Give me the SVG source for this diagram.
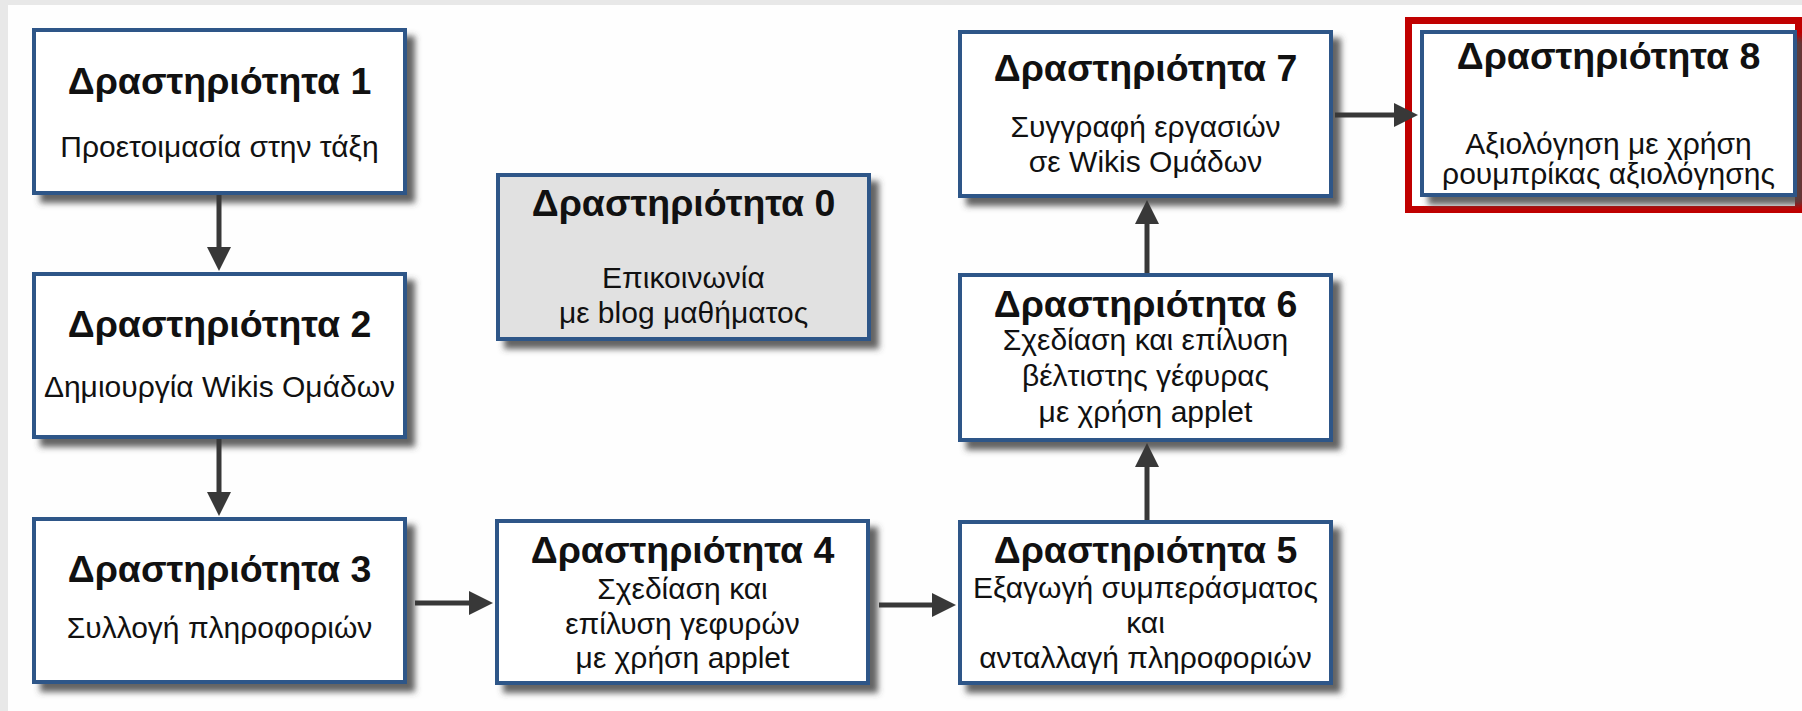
<svg xmlns="http://www.w3.org/2000/svg" width="1802" height="711" viewBox="0 0 1802 711">
<style>
.box{fill:#ffffff;stroke:#2f5788;stroke-width:4}
.gray{fill:#e1e1e1}
.t{font-family:"Liberation Sans",Arial,sans-serif;font-weight:bold;font-size:37.5px;fill:#111;text-anchor:middle}
.s{font-family:"Liberation Sans",Arial,sans-serif;font-size:30px;fill:#111;text-anchor:middle}
.c{stroke:#383838;stroke-width:5;fill:none}
</style>
<defs>
<filter id="sh" x="-10%" y="-10%" width="130%" height="140%">
<feDropShadow dx="8" dy="8" stdDeviation="3" flood-color="#4a4a4a" flood-opacity="0.85"/>
</filter>
<marker id="ah" viewBox="0 0 24 24" refX="4" refY="12" markerWidth="24" markerHeight="24" markerUnits="userSpaceOnUse" orient="auto">
<path d="M0,0 L24,12 L0,24 z" fill="#383838"/>
</marker>
</defs>
<rect x="0" y="0" width="1802" height="711" fill="#fefefe"/>
<rect x="0" y="0" width="1802" height="5" fill="#e8e8e8"/>
<rect x="0" y="0" width="8" height="711" fill="#e8e8e8"/>

<g id="frame8">
<rect x="1408.5" y="20.5" width="390" height="189" fill="#ffffff" stroke="#c00000" stroke-width="7"/>
</g>

<g id="node1">
<rect class="box" x="34" y="30" width="371" height="163" filter="url(#sh)"/>
<text class="t" x="219.5" y="94">Δραστηριότητα 1</text>
<text class="s" x="219.5" y="157">Προετοιμασία στην τάξη</text>
</g>
<g id="node2">
<rect class="box" x="34" y="274" width="371" height="163" filter="url(#sh)"/>
<text class="t" x="219.5" y="337">Δραστηριότητα 2</text>
<text class="s" x="219.5" y="397">Δημιουργία Wikis Ομάδων</text>
</g>
<g id="node3">
<rect class="box" x="34" y="519" width="371" height="163" filter="url(#sh)"/>
<text class="t" x="219.5" y="582">Δραστηριότητα 3</text>
<text class="s" x="219.5" y="638">Συλλογή πληροφοριών</text>
</g>
<g id="node0">
<rect class="box gray" x="498" y="175" width="371" height="164" filter="url(#sh)"/>
<text class="t" x="683.5" y="216">Δραστηριότητα 0</text>
<text class="s" x="683.5" y="288">Επικοινωνία</text>
<text class="s" x="683.5" y="323">με blog μαθήματος</text>
</g>
<g id="node4">
<rect class="box" x="497" y="521" width="371" height="162" filter="url(#sh)"/>
<text class="t" x="682.5" y="563">Δραστηριότητα 4</text>
<text class="s" x="682.5" y="599">Σχεδίαση και</text>
<text class="s" x="682.5" y="634">επίλυση γεφυρών</text>
<text class="s" x="682.5" y="668">με χρήση applet</text>
</g>
<g id="node5">
<rect class="box" x="960" y="522" width="371" height="161" filter="url(#sh)"/>
<text class="t" x="1145.5" y="563">Δραστηριότητα 5</text>
<text class="s" x="1145.5" y="598">Εξαγωγή συμπεράσματος</text>
<text class="s" x="1145.5" y="633">και</text>
<text class="s" x="1145.5" y="668">ανταλλαγή πληροφοριών</text>
</g>
<g id="node6">
<rect class="box" x="960" y="275" width="371" height="165" filter="url(#sh)"/>
<text class="t" x="1145.5" y="317">Δραστηριότητα 6</text>
<text class="s" x="1145.5" y="350">Σχεδίαση και επίλυση</text>
<text class="s" x="1145.5" y="386">βέλτιστης γέφυρας</text>
<text class="s" x="1145.5" y="422">με χρήση applet</text>
</g>
<g id="node7">
<rect class="box" x="960" y="32" width="371" height="164" filter="url(#sh)"/>
<text class="t" x="1145.5" y="81">Δραστηριότητα 7</text>
<text class="s" x="1145.5" y="137">Συγγραφή εργασιών</text>
<text class="s" x="1145.5" y="172">σε Wikis Ομάδων</text>
</g>
<g id="node8">
<rect class="box" x="1422" y="32" width="373" height="163" filter="url(#sh)"/>
<text class="t" x="1608.5" y="69">Δραστηριότητα 8</text>
<text class="s" x="1608.5" y="154">Αξιολόγηση με χρήση</text>
<text class="s" x="1608.5" y="184">ρουμπρίκας αξιολόγησης</text>
</g>

<g id="connectors">
<line class="c" x1="219" y1="195" x2="219" y2="251" marker-end="url(#ah)"/>
<line class="c" x1="219" y1="439" x2="219" y2="496" marker-end="url(#ah)"/>
<line class="c" x1="415" y1="603" x2="473" y2="603" marker-end="url(#ah)"/>
<line class="c" x1="879" y1="605" x2="936" y2="605" marker-end="url(#ah)"/>
<line class="c" x1="1147" y1="520" x2="1147" y2="463" marker-end="url(#ah)"/>
<line class="c" x1="1147" y1="273" x2="1147" y2="220" marker-end="url(#ah)"/>
<line class="c" x1="1335" y1="115" x2="1398" y2="115" marker-end="url(#ah)"/>
</g>
</svg>
